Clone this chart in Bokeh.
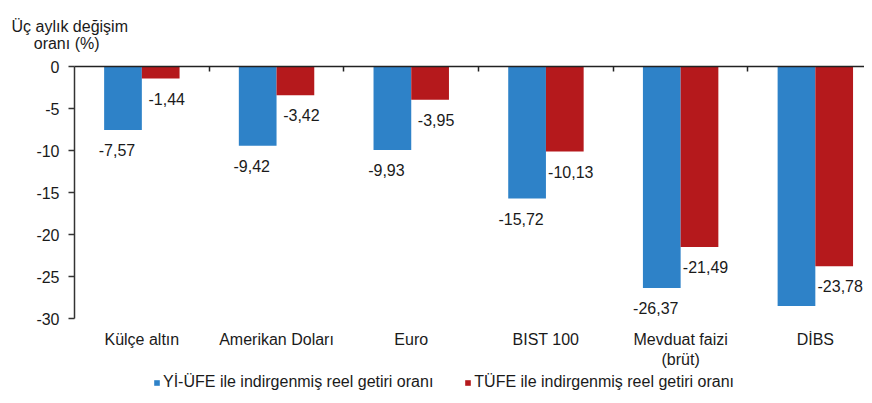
from bokeh.plotting import figure
from bokeh.layouts import column
from bokeh.models import (Range1d, FixedTicker, LinearAxis, Legend, LegendItem,
                          ColumnDataSource, Title)
from bokeh.core.properties import value
from bokeh.embed import file_html
from bokeh.resources import INLINE

categories = ["Külçe altın", "Amerikan Doları", "Euro", "BIST 100", "Mevduat faizi\n(brüt)", "DİBS"]
yiufe = [-7.57, -9.42, -9.93, -15.72, -26.37, -28.52]
tufe = [-1.44, -3.42, -3.95, -10.13, -21.49, -23.78]
series_names = ["Yİ-ÜFE ile indirgenmiş reel getiri oranı", "TÜFE ile indirgenmiş reel getiri oranı"]
y_ticks = [-30, -25, -20, -15, -10, -5, 0]
y_title = ["Üç aylık değişim", "oranı (%)"]

BLUE = "#2E82C8"
RED = "#B5191C"
FONT = "Liberation Sans"
TXT = "#1a1a1a"

idx = list(range(len(categories)))
bw = 0.28

def fmt(v):
    return f"{v:.2f}".replace(".", ",")

src_b = ColumnDataSource(dict(x=[i - bw / 2 for i in idx], top=[0] * len(idx), bottom=yiufe,
                              lab=[fmt(v) for v in yiufe], y=yiufe))
src_r = ColumnDataSource(dict(x=[i + bw / 2 for i in idx], top=[0] * len(idx), bottom=tufe,
                              lab=[fmt(v) for v in tufe], y=tufe))

p = figure(width=864, height=370, output_backend="svg", toolbar_location=None,
           x_range=Range1d(-0.5, 5.365), y_range=Range1d(-30, 0),
           min_border_left=74, min_border_top=66, min_border_bottom=52, min_border_right=0,
           x_axis_location=None, y_axis_location=None)
p.grid.visible = False
p.outline_line_color = None
p.background_fill_color = "white"
p.border_fill_color = "white"

p.vbar(x="x", width=bw, top="top", bottom="bottom", source=src_b, fill_color=BLUE, line_color=None)
p.vbar(x="x", width=bw, top="top", bottom="bottom", source=src_r, fill_color=RED, line_color=None)

p.text(x="x", y="y", text="lab", source=src_b, x_offset=-6, y_offset=20,
       text_align="center", text_baseline="middle", text_font=value(FONT),
       text_font_size="16px", text_color=TXT)
p.text(x="x", y="y", text="lab", source=src_r, x_offset=6, y_offset=20,
       text_align="center", text_baseline="middle", text_font=value(FONT),
       text_font_size="16px", text_color=TXT)

# left y axis
yax = LinearAxis(ticker=FixedTicker(ticks=y_ticks),
                 major_label_overrides={t: str(t) for t in y_ticks})
yax.axis_line_color = "#333333"
yax.axis_line_width = 1.5
yax.major_tick_line_color = "#333333"
yax.major_tick_line_width = 1.5
yax.major_tick_out = 6
yax.major_tick_in = 0
yax.minor_tick_line_color = None
yax.major_label_text_font = FONT
yax.major_label_text_font_size = "16px"
yax.major_label_text_color = TXT
yax.major_label_standoff = 9
p.add_layout(yax, "left")

# bottom category labels
xax = LinearAxis(ticker=FixedTicker(ticks=idx),
                 major_label_overrides={i: c for i, c in zip(idx, categories)})
xax.axis_line_color = None
xax.major_tick_line_color = None
xax.minor_tick_line_color = None
xax.major_label_text_font = FONT
xax.major_label_text_font_size = "16px"
xax.major_label_text_color = TXT
xax.major_label_standoff = 6
p.add_layout(xax, "below")

# top zero line with category separators
tax = LinearAxis(ticker=FixedTicker(ticks=[i + 0.5 for i in idx]),
                 major_label_overrides={i + 0.5: "" for i in idx})
tax.axis_line_color = "#222222"
tax.axis_line_width = 1.5
tax.major_tick_line_color = "#222222"
tax.major_tick_line_width = 1.5
tax.major_tick_in = 5
tax.major_tick_out = 0
tax.minor_tick_line_color = None
tax.major_label_text_font_size = "1px"
tax.major_label_standoff = 0
p.add_layout(tax, "above")

# y title: two lines, second one indented so it sits centred under the first
indent = "\u00a0" * 5
ttl = Title(text=y_title[0] + "\n" + indent + y_title[1], align="left", offset=-63,
            text_font=FONT, text_font_size="16px", text_font_style="normal",
            text_color=TXT, standoff=30)
p.add_layout(ttl, "above")

# legend strip underneath (same series, drawn outside this strip's visible range)
lg = figure(width=864, height=25, output_backend="svg", toolbar_location=None,
            x_range=Range1d(-0.5, 5.365), y_range=Range1d(100, 101),
            min_border_left=0, min_border_top=0, min_border_bottom=0, min_border_right=0,
            x_axis_location=None, y_axis_location=None)
lg.grid.visible = False
lg.outline_line_color = None
lb = lg.vbar(x="x", width=bw, top="top", bottom="bottom", source=src_b, fill_color=BLUE, line_color=None)
lr = lg.vbar(x="x", width=bw, top="top", bottom="bottom", source=src_r, fill_color=RED, line_color=None)
legend = Legend(items=[LegendItem(label=series_names[0], renderers=[lb]),
                       LegendItem(label=series_names[1], renderers=[lr])],
                location=(79, 4), orientation="horizontal",
                glyph_width=7, glyph_height=7, label_standoff=3, spacing=31,
                padding=0, margin=0, border_line_color=None, background_fill_alpha=0,
                label_text_font=FONT, label_text_font_size="16px", label_text_color=TXT,
                label_height=7)
lg.add_layout(legend, "center")

layout = column(p, lg, spacing=0)
open("out.html", "w").write(file_html(layout, INLINE))
